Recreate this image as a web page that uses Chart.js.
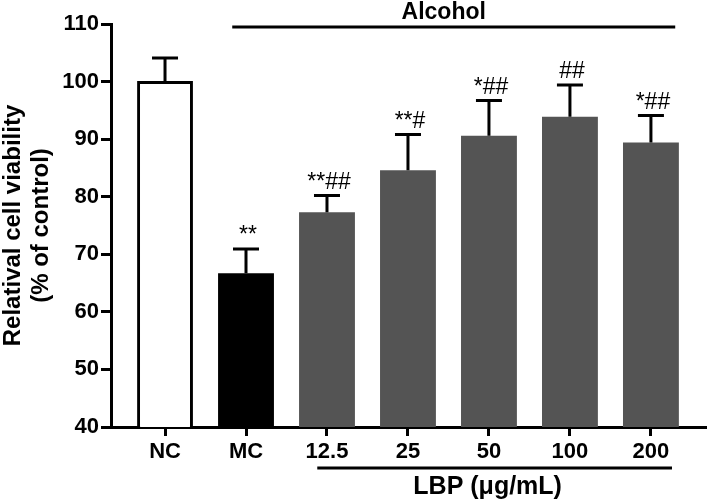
<!DOCTYPE html>
<html>
<head>
<meta charset="utf-8">
<script src="https://cdn.jsdelivr.net/npm/chart.js@4.4.1/dist/chart.umd.min.js"></script>
<style>
  html, body { margin: 0; padding: 0; background: #fff; }
  #wrap { width: 709px; height: 502px; }
</style>
</head>
<body>
<div id="wrap"><canvas id="c" width="709" height="502"></canvas></div>
<script>
// ---- data ----
const categories = ['NC', 'MC', '12.5', '25', '50', '100', '200'];
const viability  = [100.1, 66.7, 77.3, 84.6, 90.6, 93.9, 89.4];
const errorSD    = [4.0, 4.2, 2.9, 6.2, 6.1, 5.5, 4.7];
const significance = ['', '**', '**##', '**#', '*##', '##', '*##'];
const yTicks = [40, 50, 60, 70, 80, 90, 100, 110];
const groupLabels = ['Alcohol', 'LBP (\u03bcg/mL)'];

const FONT = '"Liberation Sans", Arial, sans-serif';
const fills   = ['#ffffff', '#000000', '#545454', '#545454', '#545454', '#545454', '#545454'];
const borders = [3, 0, 0, 0, 0, 0, 0];

const extrasPlugin = {
  id: 'extras',
  afterDatasetsDraw(chart) {
    const ctx = chart.ctx;
    const xs = chart.scales.x, ys = chart.scales.y;
    ctx.save();
    ctx.strokeStyle = '#000';
    ctx.fillStyle = '#000';
    ctx.lineWidth = 3;
    ctx.lineCap = 'butt';
    const capHalf = 13;
    viability.forEach((v, i) => {
      const x = xs.getPixelForValue(i);
      const y0 = ys.getPixelForValue(v);
      const y1 = ys.getPixelForValue(v + errorSD[i]);
      ctx.beginPath();
      ctx.moveTo(x, y0);
      ctx.lineTo(x, y1);
      ctx.moveTo(x - capHalf, y1);
      ctx.lineTo(x + capHalf, y1);
      ctx.stroke();
      if (significance[i]) {
        ctx.font = '23px ' + FONT;
        ctx.textAlign = 'center';
        ctx.textBaseline = 'alphabetic';
        ctx.fillText(significance[i], x + 2, y1 - 7);
      }
    });
    // group brackets
    const brackets = [
      { text: groupLabels[0], size: 23, from: 0.83, to: 6.3, lineY: ys.getPixelForValue(109.5), textY: 19, dx: -10 },
      { text: groupLabels[1], size: 25, from: 1.88, to: 6.26, lineY: 468, textY: 494, dx: -7 }
    ];
    brackets.forEach(b => {
      const xa = xs.getPixelForValue(b.from), xb = xs.getPixelForValue(b.to);
      ctx.beginPath();
      ctx.moveTo(xa, b.lineY);
      ctx.lineTo(xb, b.lineY);
      ctx.stroke();
      ctx.font = 'bold ' + b.size + 'px ' + FONT;
      ctx.textAlign = 'center';
      ctx.textBaseline = 'alphabetic';
      ctx.fillText(b.text, (xa + xb) / 2 + b.dx, b.textY);
    });
    ctx.restore();
  }
};

new Chart(document.getElementById('c'), {
  type: 'bar',
  data: {
    datasets: [{
      data: viability.map((v, i) => ({ x: i, y: v })),
      backgroundColor: fills,
      borderColor: '#000',
      borderWidth: borders,
      borderSkipped: 'start',
      barPercentage: 0.69,
      categoryPercentage: 1.0
    }]
  },
  options: {
    responsive: false,
    animation: false,
    layout: { padding: { top: 24, right: 3, left: 0, bottom: 0 } },
    plugins: { legend: { display: false }, tooltip: { enabled: false } },
    scales: {
      x: {
        type: 'linear',
        offset: false,
        min: -0.667,
        max: 6.68,
        afterBuildTicks(scale) { scale.ticks = categories.map((c, i) => ({ value: i })); },
        afterFit(scale) { scale.height = 75; },
        ticks: {
          autoSkip: false,
          maxRotation: 0,
          padding: 3,
          color: '#000',
          font: { family: FONT, size: 22, weight: 'bold' },
          callback: (v) => categories[v] ?? ''
        },
        grid: { offset: false, drawOnChartArea: false, drawTicks: true, tickLength: 9, tickWidth: 3, tickColor: '#000' },
        border: { display: true, color: '#000', width: 3 }
      },
      y: {
        min: 40,
        max: 110,
        afterBuildTicks(scale) { scale.ticks = yTicks.map(v => ({ value: v })); },
        afterFit(scale) { scale.width = 111; },
        ticks: {
          padding: 2,
          color: '#000',
          font: { family: FONT, size: 22, weight: 'bold' }
        },
        grid: { drawOnChartArea: false, drawTicks: true, tickLength: 10, tickWidth: 3, tickColor: '#000' },
        border: { display: true, color: '#000', width: 3 },
        title: {
          display: true,
          text: ['Relatival cell viability', '(% of control)'],
          color: '#000',
          font: { family: FONT, size: 24, weight: 'bold', lineHeight: 1.15 },
          padding: { top: 0, bottom: 0 }
        }
      }
    }
  },
  plugins: [extrasPlugin]
});
</script>
</body>
</html>
